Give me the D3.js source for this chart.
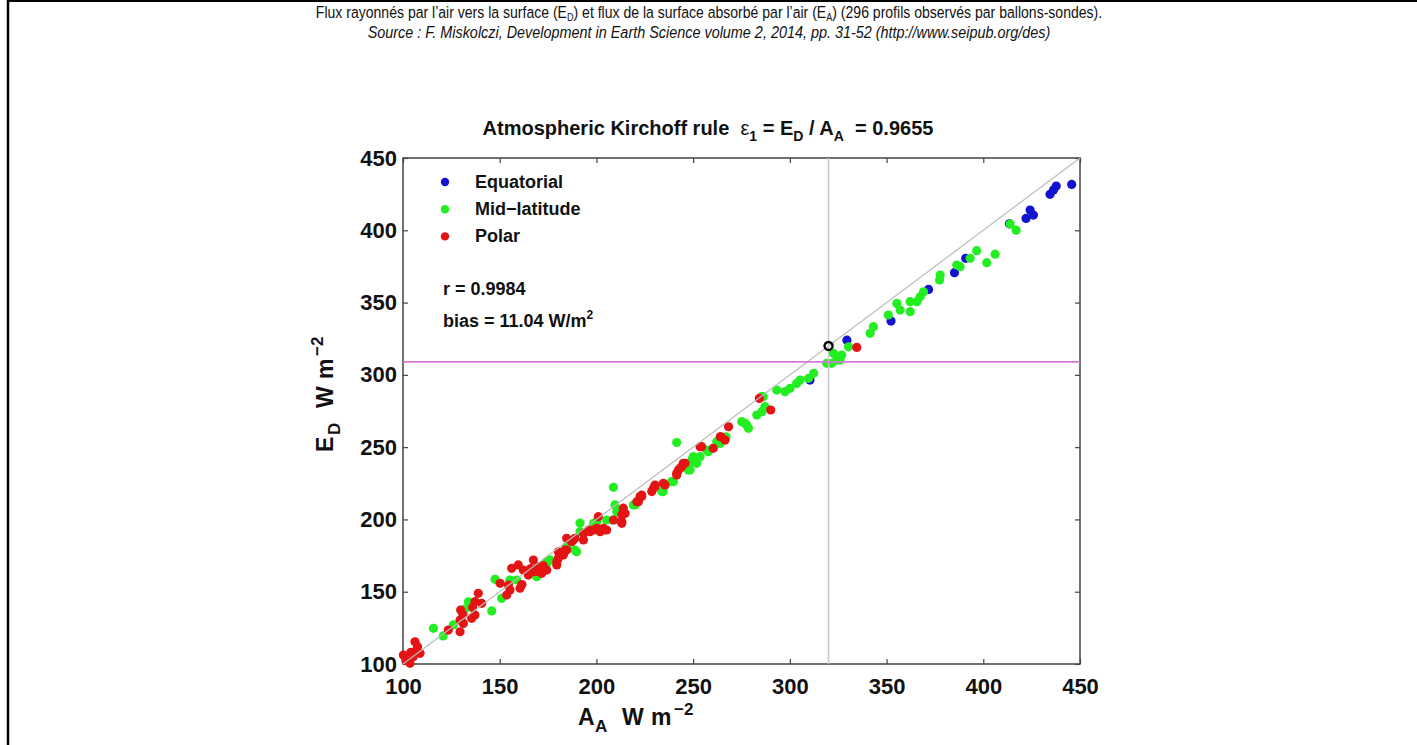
<!DOCTYPE html>
<meta charset="utf-8">
<style>
body { margin: 0; background: #fff; }
text { font-family: Arial, "Liberation Sans", sans-serif; fill: #111; }
.tick text { font-weight: bold; font-size: 22px; }
.tick line { stroke: #444; stroke-width: 1.2px; }
.legend text, .note text { font-weight: bold; font-size: 18px; }
.axislabel { font-weight: bold; font-size: 23px; }
.axislabel .small { font-size: 17px; }
</style>
<body>
<svg id="chart" width="1417" height="745"></svg>
<script src="https://d3js.org/d3.v7.min.js"></script>
<script>

// tick values shared by both axes
var tickValues = [100, 150, 200, 250, 300, 350, 400, 450];

// [A_A, E_D] pairs, W m-2
var equatorial = [
  [310.4, 296.4], [329.5, 324], [352.3, 337.2], [371.7, 359.1], [385.1, 370.7],
  [390.9, 380.6], [413.5, 404.5], [422.1, 408.2], [424.2, 414], [425.9, 410.5],
  [434.5, 424.9], [436.3, 427.8], [437.7, 430.6], [445.7, 431.7]
];

var midLatitude = [
  [115.7, 124.7], [120.8, 119.4], [126, 127], [132, 138], [133.8, 143],
  [145.9, 136.7], [147.6, 158.6], [151, 145.4], [155.3, 158.1], [158.8, 158.1],
  [169.1, 160.4], [174.3, 169.6], [174.3, 170.8], [176, 172], [184.6, 181.1],
  [188.9, 178.8], [189.7, 177.6], [191.5, 191.5], [191.5, 197.5], [198.5, 197.3],
  [200.2, 198.6], [205.3, 199.6], [208.8, 199.6], [209.6, 210], [210.5, 205.3],
  [208.8, 222.2], [219.1, 210], [220, 210], [233.8, 219.3], [234.5, 219.3],
  [238.8, 226.1], [239.8, 226.1], [241.5, 253.2], [247.5, 234.2], [248.4, 234.2],
  [248.4, 238.8], [249.3, 241.1], [251.8, 238.8], [250, 243.4], [253.6, 243.4],
  [257, 248], [257.8, 246.8], [262.2, 253.8], [263.9, 252.6], [266.5, 256.1],
  [267, 257.2], [275.1, 267.6], [276.8, 266.5], [277.7, 265.3], [278.6, 263],
  [282.9, 272.2], [285.5, 274.5], [287.1, 278], [286.2, 284.9], [285.5, 284.9],
  [293.2, 289.5], [297.5, 288.4], [300.1, 290.7], [303.5, 294.1], [305.3, 296.4],
  [309.7, 297.6], [312.3, 301.1], [319.1, 308], [321.6, 308], [322.5, 314.9],
  [324.2, 310.2], [325.9, 310.2], [326.8, 313.7], [330.3, 319.4], [341.5, 328.7],
  [343.2, 333.3], [350.9, 341.4], [355.3, 349.4], [357, 344.8], [362.2, 343.7],
  [362.2, 350.6], [365.7, 350.6], [367.4, 354], [369.1, 357.5], [377.4, 365.6],
  [377.7, 369], [386.3, 376], [388, 374.8], [393.2, 380.6], [396.6, 385.9],
  [401.8, 377.6], [406.1, 383.5], [413.9, 404.3], [417, 400.1]
];

var polar = [
  [100.2, 106.2], [101.5, 102.5], [103.6, 100.5], [104, 108], [105.3, 105],
  [106.2, 115.4], [107, 109.7], [107.5, 112], [108.8, 107.4], [123.4, 123.5],
  [129.5, 122.3], [129.5, 130.4], [129.8, 137.3], [131.2, 128.1], [131, 134],
  [135.5, 131.6], [136, 139], [137.2, 133.9], [137.2, 143.1], [138.9, 148.9],
  [140.7, 142], [150.2, 155.8], [153.6, 147.7], [154.5, 154.6], [155.3, 151.2],
  [156.2, 166.2], [159.6, 168.5], [160.5, 152.4], [161.5, 155], [162.2, 165],
  [164.8, 161.5], [166, 166], [167.4, 171.9], [167.4, 163.8], [169, 164],
  [170, 167.3], [171.7, 162.7], [172.5, 168], [174.3, 165], [179.5, 168.5],
  [179.5, 170.8], [180.3, 173.1], [180.3, 177.6], [182.9, 176.6], [182.9, 175.4],
  [183.8, 178.8], [184.6, 178.8], [187.2, 184.6], [184.6, 186.9], [188, 185.8],
  [188.9, 186.9], [193.3, 185.8], [193.3, 190.2], [195.9, 192.7], [196.7, 191.5],
  [198.5, 192.7], [200.2, 193.9], [201, 201.9], [201.9, 191.5], [203.6, 193.9],
  [203.6, 192.7], [205.3, 192.7], [208.8, 199.6], [213.1, 203.2], [213.1, 198.6],
  [213.1, 197.3], [213.9, 207.8], [214.8, 204.1], [220.9, 212.3], [221.7, 212.3],
  [222.6, 215.8], [223.4, 215.8], [223.4, 216.9], [228.6, 219.3], [229.4, 221.5],
  [230.3, 222.6], [230.3, 223.8], [234.6, 225], [235.5, 223.8], [241.5, 230.7],
  [241.5, 231.9], [242.4, 234.2], [243.2, 235.4], [244.1, 236.4], [244.9, 238.8],
  [245.8, 238.8], [253.6, 250.3], [254.4, 250.3], [260.4, 249.2], [264, 257.2],
  [264.4, 257.2], [266.5, 254.9], [268.3, 264.1], [284.2, 283.7], [290.1, 275.7],
  [334.6, 319]
];

var seriesNames = ["Equatorial", "Mid\u2212latitude", "Polar"];
var seriesColors = ["#1212d0", "#22ee22", "#e41414"];
var seriesData = [equatorial, midLatitude, polar];

var reference = [320, 320];       // open black circle
var refE = 309;                   // 0.9655 * 320, magenta line

var svg = d3.select("#chart");

// frame of the page
svg.append("line").attr("x1", 7).attr("x2", 1417).attr("y1", 1).attr("y2", 1)
    .style("stroke", "#000").style("stroke-width", 2);
svg.append("line").attr("x1", 8).attr("x2", 8).attr("y1", 0).attr("y2", 745)
    .style("stroke", "#000").style("stroke-width", 2.5);

// header, squeezed horizontally like the narrow font of the original
function squeeze(t, cx, cy, width) {
  var w = t.node().getComputedTextLength();
  t.attr("transform", "translate(" + cx + "," + cy + ") scale(" + (width / w) + ",1)");
}
var h1 = svg.append("text").attr("text-anchor", "middle").style("font-size", "17px");
h1.append("tspan").text("Flux rayonnés par l\u2019air vers la surface (E");
h1.append("tspan").attr("dy", 3).style("font-size", "11px").text("D");
h1.append("tspan").attr("dy", -3).text(") et flux de la surface absorbé par l\u2019air (E");
h1.append("tspan").attr("dy", 3).style("font-size", "11px").text("A");
h1.append("tspan").attr("dy", -3).text(") (296 profils observés par ballons-sondes).");
squeeze(h1, 709, 18, 787);

var h2 = svg.append("text").attr("text-anchor", "middle")
    .style("font-size", "17px").style("font-style", "italic")
    .text("Source : F. Miskolczi, Development in Earth Science volume 2, 2014, pp. 31-52 (http://www.seipub.org/des)");
squeeze(h2, 709, 38, 683);

// scales
var x = d3.scaleLinear().domain([100, 450]).range([403, 1080]);
var y = d3.scaleLinear().domain([100, 450]).range([664, 158]);

// plot box
svg.append("rect")
    .attr("x", x(100)).attr("y", y(450))
    .attr("width", x(450) - x(100)).attr("height", y(100) - y(450))
    .style("fill", "#fff").style("stroke", "#444").style("stroke-width", 1.5);

// axes, ticks inside the box
svg.append("g").attr("transform", "translate(0," + y(100) + ")")
    .call(d3.axisBottom(x).tickValues(tickValues).tickSize(-5).tickPadding(14))
    .call(function(g) { g.select(".domain").remove(); });
svg.append("g").attr("transform", "translate(" + x(100) + ",0)")
    .call(d3.axisLeft(y).tickValues(tickValues).tickSize(-5).tickPadding(6))
    .call(function(g) { g.select(".domain").remove(); });
svg.append("g").attr("transform", "translate(0," + y(450) + ")")
    .call(d3.axisTop(x).tickValues(tickValues).tickSize(-5).tickFormat(""))
    .call(function(g) { g.select(".domain").remove(); });
svg.append("g").attr("transform", "translate(" + x(450) + ",0)")
    .call(d3.axisRight(y).tickValues(tickValues).tickSize(-5).tickFormat(""))
    .call(function(g) { g.select(".domain").remove(); });
svg.selectAll(".tick text").style("fill", "#111");

// points: equatorial, then mid-latitude, then polar on top
seriesData.forEach(function(data, i) {
  svg.append("g").selectAll("circle")
    .data(data)
    .enter()
    .append("circle")
      .attr("cx", function(d) { return x(d[0]); })
      .attr("cy", function(d) { return y(d[1]); })
      .attr("r", 4.6)
      .style("fill", seriesColors[i]);
});

// 1:1 line, A = 320 line, E = 309 line
svg.append("line")
    .attr("x1", x(100)).attr("y1", y(100)).attr("x2", x(450)).attr("y2", y(450))
    .style("stroke", "#bbb").style("stroke-width", 1.2);
svg.append("line")
    .attr("x1", x(reference[0])).attr("y1", y(100)).attr("x2", x(reference[0])).attr("y2", y(450))
    .style("stroke", "#c8c8c8").style("stroke-width", 1.5);
svg.append("line")
    .attr("x1", x(100)).attr("y1", y(refE)).attr("x2", x(450)).attr("y2", y(refE))
    .style("stroke", "#d678d6").style("stroke-width", 1.6);

svg.append("circle")
    .attr("cx", x(reference[0])).attr("cy", y(reference[1])).attr("r", 4)
    .style("fill", "none").style("stroke", "#000").style("stroke-width", 2.4);

// legend
var legend = svg.append("g").attr("class", "legend");
seriesNames.forEach(function(name, i) {
  legend.append("circle").attr("cx", 445).attr("cy", 182 + i * 27.2).attr("r", 4.2)
      .style("fill", seriesColors[i]);
  legend.append("text").attr("x", 475).attr("y", 188 + i * 27.2).text(name);
});

// statistics
var note = svg.append("g").attr("class", "note");
note.append("text").attr("x", 443).attr("y", 295).text("r = 0.9984");
var bias = note.append("text").attr("x", 443).attr("y", 327);
bias.append("tspan").text("bias = 11.04 W/m");
bias.append("tspan").attr("dy", -8).style("font-size", "12px").text("2");

// title
var title = svg.append("text").attr("x", 708).attr("y", 135).attr("text-anchor", "middle")
    .style("font-weight", "bold").style("font-size", "20px");
title.append("tspan").text("Atmospheric Kirchoff rule  ");
title.append("tspan").style("font-weight", "normal").text("\u03b5");
title.append("tspan").attr("dy", 6).style("font-size", "14px").text("1");
title.append("tspan").attr("dy", -6).text(" = E");
title.append("tspan").attr("dy", 6).style("font-size", "14px").text("D");
title.append("tspan").attr("dy", -6).text(" / A");
title.append("tspan").attr("dy", 6).style("font-size", "14px").text("A");
title.append("tspan").attr("dy", -6).text("  = 0.9655");
title.attr("xml:space", "preserve");

// axis labels: pieces placed along the axis, offsets from the start
function axisLabel(g, letter, sub) {
  var t = g.append("text").attr("class", "axislabel");
  t.append("tspan").attr("x", 0).attr("y", 0).text(letter);
  t.append("tspan").attr("class", "small").attr("x", 17).attr("y", 7).text(sub);
  t.append("tspan").attr("x", 44).attr("y", 0).text("W");
  t.append("tspan").attr("x", 73).attr("y", 0).text("m");
  t.append("tspan").attr("class", "small").attr("x", 96).attr("y", -10).text("\u22122");
}
axisLabel(svg.append("g").attr("transform", "translate(578,725)"), "A", "A");
axisLabel(svg.append("g").attr("transform", "translate(333,452) rotate(-90)"), "E", "D");

</script>
</body>
</html>
